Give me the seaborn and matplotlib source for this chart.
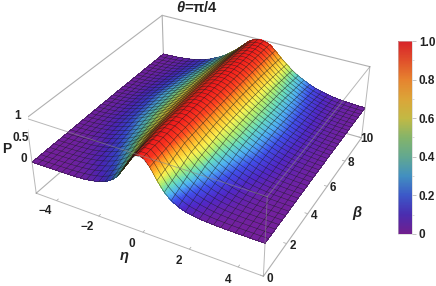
import numpy as np
import matplotlib
matplotlib.use('Agg')
import matplotlib.pyplot as plt
import seaborn as sns

# P against |eta|, one list per beta position
eta_half = [0, .25, .5, .75, 1, 1.25, 1.5, 1.75, 2, 2.25, 2.5, 2.75, 3, 3.25, 3.5, 3.75, 4, 4.25, 4.5, 4.75, 5]
p_beta0 = [1, .94, .76, .54, .36, .24, .16, .10, .07, .05, .03, .02, .013, .009, .006, .004, .003, .002, .001, 0, 0]
p_beta2 = [1, .97, .88, .76, .63, .52, .42, .33, .26, .20, .155, .115, .085, .06, .045, .032, .022, .016, .011, .007, .004]
p_beta4 = [1, .98, .91, .81, .71, .62, .54, .47, .40, .34, .28, .23, .18, .14, .105, .078, .056, .04, .028, .019, .012]
p_beta6 = [1, .98, .93, .84, .74, .64, .56, .49, .43, .37, .32, .27, .22, .17, .13, .095, .068, .048, .033, .022, .014]
p_beta8 = [1, .98, .93, .84, .73, .63, .54, .46, .40, .34, .28, .23, .18, .14, .10, .074, .053, .037, .026, .018, .011]
p_beta10 = [1, .98, .92, .81, .69, .58, .48, .39, .32, .26, .20, .155, .12, .09, .065, .047, .034, .024, .017, .012, .008]
beta_rows = [0, 2, 4, 6, 8, 10]

eta_ticks = [-4, -2, 0, 2, 4]
beta_ticks = [0, 2, 4, 6, 8, 10]
p_ticks = [0, 0.5, 1]
bar_ticks = [0, .2, .4, .6, .8, 1]
bar_labels = ['0', '0.2', '0.4', '0.6', '0.8', '1.0']

surface_colours = ['#74209c', '#5028c8', '#4050ec', '#4fb0f4', '#68dcc0', '#b0ee70',
                   '#fbf250', '#ffc832', '#ff9422', '#ff4420', '#f01c1c']
bar_colours = ['#701f8e', '#4a2db0', '#3c58c8', '#4290c0', '#62a890', '#84b46a',
               '#c2b944', '#dba538', '#e6832f', '#e0502b', '#d8232a']

sns.set_theme(style='white')
plt.rcParams['font.family'] = ['Liberation Sans', 'DejaVu Sans']
plt.rcParams['mathtext.fontset'] = 'custom'
plt.rcParams['mathtext.it'] = 'Liberation Sans:italic:bold'
plt.rcParams['mathtext.rm'] = 'Liberation Sans:bold'
plt.rcParams['mathtext.bf'] = 'Liberation Sans:bold'

surf_cmap = sns.blend_palette(surface_colours, as_cmap=True)
bar_cmap = sns.blend_palette(bar_colours, as_cmap=True)

W, H = 436, 286
fig = plt.figure(figsize=(W/100, H/100), dpi=100)
ax = fig.add_axes([27.57/W, -21.36/H, 347.81/W, 347.81/H], projection='3d')
zb = -0.752
ax.view_init(33.45, -61.44)
ax.set_proj_type('persp', focal_length=0.467)
ax.set_box_aspect((1, 0.993, 0.3545))
ax.set_xlim(-5, 5); ax.set_ylim(0, 10); ax.set_zlim(zb, 1)
ax.set_xticks([]); ax.set_yticks([]); ax.set_zticks([])
ax.computed_zorder = False
ax.set_axis_off()

# full rows over eta
eta_full = np.r_[-np.array(eta_half)[:0:-1], eta_half]
rows = np.array([np.r_[np.array(r)[:0:-1], r] for r in (p_beta0, p_beta2, p_beta4, p_beta6, p_beta8, p_beta10)])

def table(etas, betas):
    by_eta = np.array([np.interp(etas, eta_full, r) for r in rows])
    return np.array([np.interp(betas, beta_rows, by_eta[:, j]) for j in range(len(etas))]).T

eta_fine = np.linspace(-5, 5, 241)
beta_fine = np.linspace(0, 10, 81)
E, B = np.meshgrid(eta_fine, beta_fine)
P = table(eta_fine, beta_fine)

# darker on the slope that faces away from the light
slope = np.gradient(P, eta_fine, axis=1)
rgba = surf_cmap(P)
rgba[..., :3] *= (1 - 0.8*np.clip(slope, 0, 1))[..., None]
ax.plot_surface(E, B, P, facecolors=rgba, rstride=1, cstride=1, shade=False,
                linewidth=0, antialiased=False, zorder=2)

eta_mesh = np.linspace(-5, 5, 36)
beta_mesh = np.linspace(0, 10, 36)
Em, Bm = np.meshgrid(eta_mesh, beta_mesh)
ax.plot_wireframe(Em, Bm, table(eta_mesh, beta_mesh), rstride=1, cstride=1,
                  color='#1c1c1c', linewidth=0.4, alpha=0.7, zorder=3)

# box edges
grey = '#b0b0b0'
back = [((-5, -5), (10, 10), (zb, 1)), ((-5, 5), (10, 10), (zb, zb)), ((-5, -5), (0, 10), (zb, zb)),
        ((5, 5), (0, 10), (zb, zb)), ((-5, -5), (0, 10), (1, 1)), ((-5, 5), (10, 10), (1, 1))]
front = [((5, 5), (0, 0), (zb, 1)), ((5, 5), (0, 10), (1, 1)), ((-5, 5), (0, 0), (1, 1)),
         ((5, 5), (10, 10), (zb, 1)), ((-5, -5), (0, 0), (zb, 1)), ((-5, 5), (0, 0), (zb, zb))]
for xs, ys, zs in back:
    ax.plot(xs, ys, zs, color=grey, lw=0.8, zorder=1)
for xs, ys, zs in front:
    ax.plot(xs, ys, zs, color='#888888', lw=0.7, alpha=0.6, zorder=4)

# ticks and labels
txt = dict(fontsize=8.5, fontweight='bold', color='#222222', ha='center', va='center')
for v in eta_ticks:
    ax.plot([v, v], [0, 0.12], [zb, zb], color=grey, lw=0.6, zorder=4)
    ax.text(v, -0.75, zb, str(v).replace('-', '\u2212'), zorder=5, **txt)
for v in beta_ticks:
    ax.plot([4.88, 5], [v, v], [zb, zb], color=grey, lw=0.6, zorder=4)
    ax.text(5.25, v, zb, str(v), zorder=5, **txt)
for v in p_ticks:
    ax.text(-5.39, -0.01, v, f'{v:g}', zorder=5, **txt)
ax.text(-5.85, -0.4, 0.28, 'P', zorder=5, **dict(txt, fontsize=10))
ax.text(0.16, -1.52, zb, r'$\eta$', zorder=5, **dict(txt, fontsize=10.5))
ax.text(6.65, 4.97, zb, r'$\beta$', zorder=5, **dict(txt, fontsize=10.5))

fig.text(197/W, 1 - 8/H, r'$\theta$=π/4', fontsize=10.5, fontweight='bold', color='#222222',
         ha='center', va='center')

cax = fig.add_axes([398/W, (H - 234)/H, 14/W, 193/H])
sm = matplotlib.cm.ScalarMappable(matplotlib.colors.Normalize(0, 1), cmap=bar_cmap)
cbar = fig.colorbar(sm, cax=cax, ticks=bar_ticks)
cbar.ax.set_yticklabels(bar_labels, fontsize=8.5, fontweight='bold', color='#222222')
cbar.ax.yaxis.set_minor_locator(matplotlib.ticker.MultipleLocator(0.1))
cbar.ax.tick_params(which='major', direction='out', right=True, left=False, length=3, width=0.5, color='#aaaaaa', pad=2)
cbar.ax.tick_params(which='minor', direction='out', right=True, left=False, length=1.5, width=0.4, color='#bbbbbb')
cbar.outline.set_edgecolor('#cccccc')
cbar.outline.set_linewidth(0.4)

fig.savefig('out.png', dpi=100)
